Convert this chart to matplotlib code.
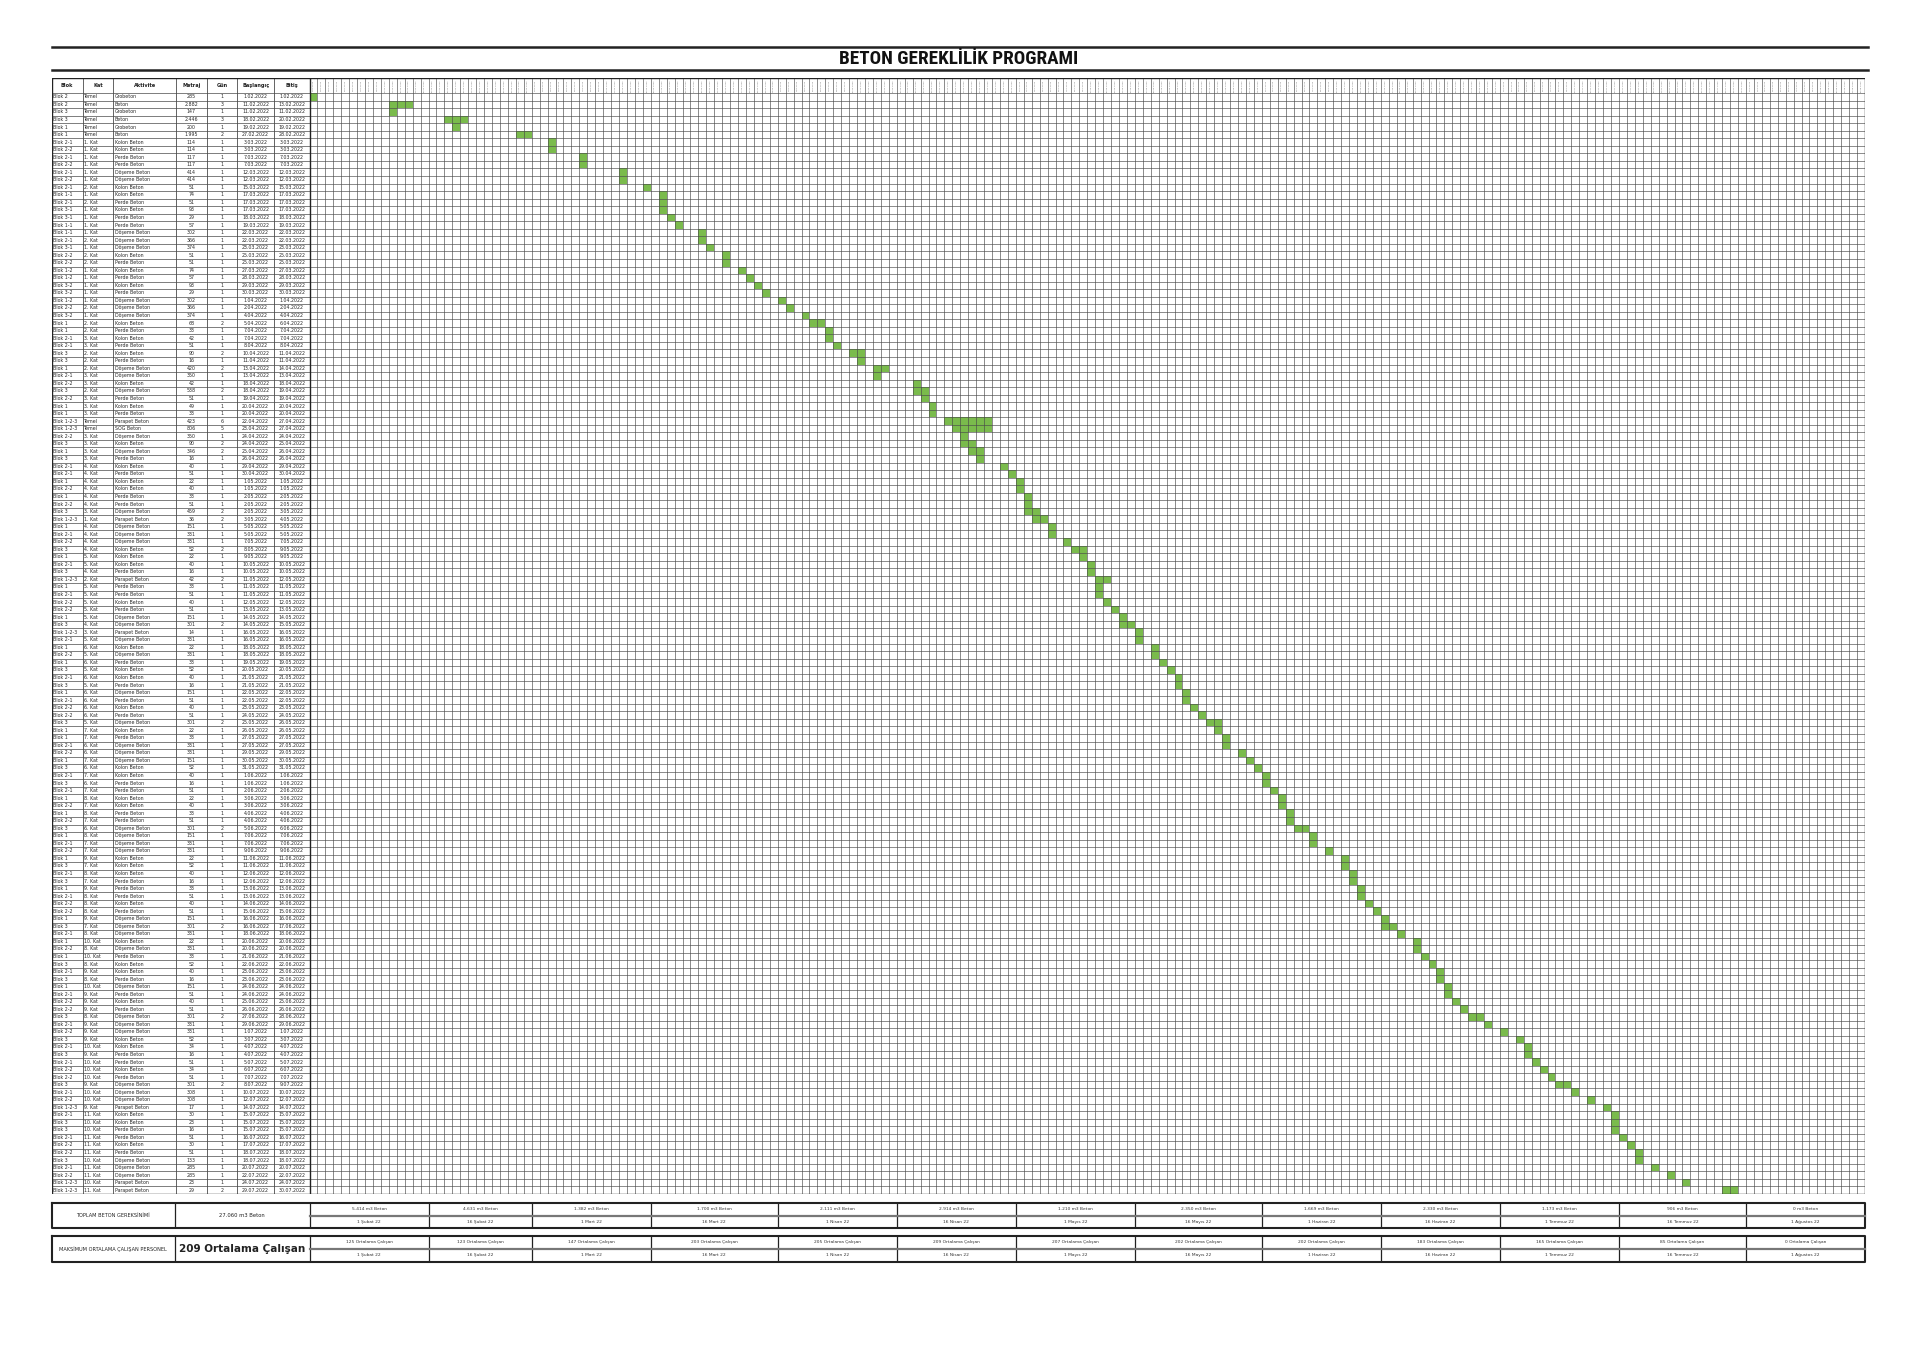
import datetime as dt
import matplotlib.pyplot as plt

plt.rcParams['font.family'] = ['Liberation Sans Narrow', 'DejaVu Sans']

blok = [
    "Blok 2", "Blok 2", "Blok 3", "Blok 3", "Blok 1", "Blok 1", "Blok 2-1", "Blok 2-2", "Blok 2-1", "Blok 2-2",
    "Blok 2-1", "Blok 2-2", "Blok 2-1", "Blok 1-1", "Blok 2-1", "Blok 3-1", "Blok 3-1", "Blok 1-1", "Blok 1-1", "Blok 2-1",
    "Blok 3-1", "Blok 2-2", "Blok 2-2", "Blok 1-2", "Blok 1-2", "Blok 3-2", "Blok 3-2", "Blok 1-2", "Blok 2-2", "Blok 3-2",
    "Blok 1", "Blok 1", "Blok 2-1", "Blok 2-1", "Blok 3", "Blok 3", "Blok 1", "Blok 2-1", "Blok 2-2", "Blok 3",
    "Blok 2-2", "Blok 1", "Blok 1", "Blok 1-2-3", "Blok 1-2-3", "Blok 2-2", "Blok 3", "Blok 1", "Blok 3", "Blok 2-1",
    "Blok 2-1", "Blok 1", "Blok 2-2", "Blok 1", "Blok 2-2", "Blok 3", "Blok 1-2-3", "Blok 1", "Blok 2-1", "Blok 2-2",
    "Blok 3", "Blok 1", "Blok 2-1", "Blok 3", "Blok 1-2-3", "Blok 1", "Blok 2-1", "Blok 2-2", "Blok 2-2", "Blok 1",
    "Blok 3", "Blok 1-2-3", "Blok 2-1", "Blok 1", "Blok 2-2", "Blok 1", "Blok 3", "Blok 2-1", "Blok 3", "Blok 1",
    "Blok 2-1", "Blok 2-2", "Blok 2-2", "Blok 3", "Blok 1", "Blok 1", "Blok 2-1", "Blok 2-2", "Blok 1", "Blok 3",
    "Blok 2-1", "Blok 3", "Blok 2-1", "Blok 1", "Blok 2-2", "Blok 1", "Blok 2-2", "Blok 3", "Blok 1", "Blok 2-1",
    "Blok 2-2", "Blok 1", "Blok 3", "Blok 2-1", "Blok 3", "Blok 1", "Blok 2-1", "Blok 2-2", "Blok 2-2", "Blok 1",
    "Blok 3", "Blok 2-1", "Blok 1", "Blok 2-2", "Blok 1", "Blok 3", "Blok 2-1", "Blok 3", "Blok 1", "Blok 2-1",
    "Blok 2-2", "Blok 2-2", "Blok 3", "Blok 2-1", "Blok 2-2", "Blok 3", "Blok 2-1", "Blok 3", "Blok 2-1", "Blok 2-2",
    "Blok 2-2", "Blok 3", "Blok 2-1", "Blok 2-2", "Blok 1-2-3", "Blok 2-1", "Blok 3", "Blok 3", "Blok 2-1", "Blok 2-2",
    "Blok 2-2", "Blok 3", "Blok 2-1", "Blok 2-2", "Blok 1-2-3", "Blok 1-2-3",
]

kat = [
    "Temel", "Temel", "Temel", "Temel", "Temel", "Temel", "1. Kat", "1. Kat", "1. Kat", "1. Kat",
    "1. Kat", "1. Kat", "2. Kat", "1. Kat", "2. Kat", "1. Kat", "1. Kat", "1. Kat", "1. Kat", "2. Kat",
    "1. Kat", "2. Kat", "2. Kat", "1. Kat", "1. Kat", "1. Kat", "1. Kat", "1. Kat", "2. Kat", "1. Kat",
    "2. Kat", "2. Kat", "3. Kat", "3. Kat", "2. Kat", "2. Kat", "2. Kat", "3. Kat", "3. Kat", "2. Kat",
    "3. Kat", "3. Kat", "3. Kat", "Temel", "Temel", "3. Kat", "3. Kat", "3. Kat", "3. Kat", "4. Kat",
    "4. Kat", "4. Kat", "4. Kat", "4. Kat", "4. Kat", "3. Kat", "1. Kat", "4. Kat", "4. Kat", "4. Kat",
    "4. Kat", "5. Kat", "5. Kat", "4. Kat", "2. Kat", "5. Kat", "5. Kat", "5. Kat", "5. Kat", "5. Kat",
    "4. Kat", "3. Kat", "5. Kat", "6. Kat", "5. Kat", "6. Kat", "5. Kat", "6. Kat", "5. Kat", "6. Kat",
    "6. Kat", "6. Kat", "6. Kat", "5. Kat", "7. Kat", "7. Kat", "6. Kat", "6. Kat", "7. Kat", "6. Kat",
    "7. Kat", "6. Kat", "7. Kat", "8. Kat", "7. Kat", "8. Kat", "7. Kat", "6. Kat", "8. Kat", "7. Kat",
    "7. Kat", "9. Kat", "7. Kat", "8. Kat", "7. Kat", "9. Kat", "8. Kat", "8. Kat", "8. Kat", "9. Kat",
    "7. Kat", "8. Kat", "10. Kat", "8. Kat", "10. Kat", "8. Kat", "9. Kat", "8. Kat", "10. Kat", "9. Kat",
    "9. Kat", "9. Kat", "8. Kat", "9. Kat", "9. Kat", "9. Kat", "10. Kat", "9. Kat", "10. Kat", "10. Kat",
    "10. Kat", "9. Kat", "10. Kat", "10. Kat", "9. Kat", "11. Kat", "10. Kat", "10. Kat", "11. Kat", "11. Kat",
    "11. Kat", "10. Kat", "11. Kat", "11. Kat", "10. Kat", "11. Kat",
]

aktivite = [
    "Grobeton", "Beton", "Grobeton", "Beton", "Grobeton", "Beton", "Kolon Beton", "Kolon Beton", "Perde Beton", "Perde Beton",
    "Döşeme Beton", "Döşeme Beton", "Kolon Beton", "Kolon Beton", "Perde Beton", "Kolon Beton", "Perde Beton", "Perde Beton", "Döşeme Beton", "Döşeme Beton",
    "Döşeme Beton", "Kolon Beton", "Perde Beton", "Kolon Beton", "Perde Beton", "Kolon Beton", "Perde Beton", "Döşeme Beton", "Döşeme Beton", "Döşeme Beton",
    "Kolon Beton", "Perde Beton", "Kolon Beton", "Perde Beton", "Kolon Beton", "Perde Beton", "Döşeme Beton", "Döşeme Beton", "Kolon Beton", "Döşeme Beton",
    "Perde Beton", "Kolon Beton", "Perde Beton", "Parapet Beton", "SOG Beton", "Döşeme Beton", "Kolon Beton", "Döşeme Beton", "Perde Beton", "Kolon Beton",
    "Perde Beton", "Kolon Beton", "Kolon Beton", "Perde Beton", "Perde Beton", "Döşeme Beton", "Parapet Beton", "Döşeme Beton", "Döşeme Beton", "Döşeme Beton",
    "Kolon Beton", "Kolon Beton", "Kolon Beton", "Perde Beton", "Parapet Beton", "Perde Beton", "Perde Beton", "Kolon Beton", "Perde Beton", "Döşeme Beton",
    "Döşeme Beton", "Parapet Beton", "Döşeme Beton", "Kolon Beton", "Döşeme Beton", "Perde Beton", "Kolon Beton", "Kolon Beton", "Perde Beton", "Döşeme Beton",
    "Perde Beton", "Kolon Beton", "Perde Beton", "Döşeme Beton", "Kolon Beton", "Perde Beton", "Döşeme Beton", "Döşeme Beton", "Döşeme Beton", "Kolon Beton",
    "Kolon Beton", "Perde Beton", "Perde Beton", "Kolon Beton", "Kolon Beton", "Perde Beton", "Perde Beton", "Döşeme Beton", "Döşeme Beton", "Döşeme Beton",
    "Döşeme Beton", "Kolon Beton", "Kolon Beton", "Kolon Beton", "Perde Beton", "Perde Beton", "Perde Beton", "Kolon Beton", "Perde Beton", "Döşeme Beton",
    "Döşeme Beton", "Döşeme Beton", "Kolon Beton", "Döşeme Beton", "Perde Beton", "Kolon Beton", "Kolon Beton", "Perde Beton", "Döşeme Beton", "Perde Beton",
    "Kolon Beton", "Perde Beton", "Döşeme Beton", "Döşeme Beton", "Döşeme Beton", "Kolon Beton", "Kolon Beton", "Perde Beton", "Perde Beton", "Kolon Beton",
    "Perde Beton", "Döşeme Beton", "Döşeme Beton", "Döşeme Beton", "Parapet Beton", "Kolon Beton", "Kolon Beton", "Perde Beton", "Perde Beton", "Kolon Beton",
    "Perde Beton", "Döşeme Beton", "Döşeme Beton", "Döşeme Beton", "Parapet Beton", "Parapet Beton",
]

metraj = [
    "285", "2.882", "147", "2.446", "200", "1.995", "114", "114", "117", "117",
    "414", "414", "51", "74", "51", "93", "29", "57", "302", "366",
    "374", "51", "51", "74", "57", "93", "29", "302", "366", "374",
    "68", "33", "42", "51", "90", "16", "420", "350", "42", "538",
    "51", "49", "33", "423", "806", "350", "90", "346", "16", "40",
    "51", "22", "40", "33", "51", "459", "36", "151", "331", "331",
    "52", "22", "40", "16", "42", "33", "51", "40", "51", "151",
    "301", "14", "331", "22", "331", "33", "52", "40", "16", "151",
    "51", "40", "51", "301", "22", "33", "331", "331", "151", "52",
    "40", "16", "51", "22", "40", "33", "51", "301", "151", "331",
    "331", "22", "52", "40", "16", "33", "51", "40", "51", "151",
    "301", "331", "22", "331", "33", "52", "40", "16", "151", "51",
    "40", "51", "301", "331", "331", "52", "34", "16", "51", "34",
    "51", "301", "308", "308", "17", "30", "23", "16", "51", "30",
    "51", "133", "285", "285", "23", "29",
]

gun = [
    1, 3, 1, 3, 1, 2, 1, 1, 1, 1,
    1, 1, 1, 1, 1, 1, 1, 1, 1, 1,
    1, 1, 1, 1, 1, 1, 1, 1, 1, 1,
    2, 1, 1, 1, 2, 1, 2, 1, 1, 2,
    1, 1, 1, 6, 5, 1, 2, 2, 1, 1,
    1, 1, 1, 1, 1, 2, 2, 1, 1, 1,
    2, 1, 1, 1, 2, 1, 1, 1, 1, 1,
    2, 1, 1, 1, 1, 1, 1, 1, 1, 1,
    1, 1, 1, 2, 1, 1, 1, 1, 1, 1,
    1, 1, 1, 1, 1, 1, 1, 2, 1, 1,
    1, 1, 1, 1, 1, 1, 1, 1, 1, 1,
    2, 1, 1, 1, 1, 1, 1, 1, 1, 1,
    1, 1, 2, 1, 1, 1, 1, 1, 1, 1,
    1, 2, 1, 1, 1, 1, 1, 1, 1, 1,
    1, 1, 1, 1, 1, 2,
]

baslangic = [
    "1.02.2022", "11.02.2022", "11.02.2022", "18.02.2022", "19.02.2022", "27.02.2022", "3.03.2022", "3.03.2022", "7.03.2022", "7.03.2022",
    "12.03.2022", "12.03.2022", "15.03.2022", "17.03.2022", "17.03.2022", "17.03.2022", "18.03.2022", "19.03.2022", "22.03.2022", "22.03.2022",
    "23.03.2022", "25.03.2022", "25.03.2022", "27.03.2022", "28.03.2022", "29.03.2022", "30.03.2022", "1.04.2022", "2.04.2022", "4.04.2022",
    "5.04.2022", "7.04.2022", "7.04.2022", "8.04.2022", "10.04.2022", "11.04.2022", "13.04.2022", "13.04.2022", "18.04.2022", "18.04.2022",
    "19.04.2022", "20.04.2022", "20.04.2022", "22.04.2022", "23.04.2022", "24.04.2022", "24.04.2022", "25.04.2022", "26.04.2022", "29.04.2022",
    "30.04.2022", "1.05.2022", "1.05.2022", "2.05.2022", "2.05.2022", "2.05.2022", "3.05.2022", "5.05.2022", "5.05.2022", "7.05.2022",
    "8.05.2022", "9.05.2022", "10.05.2022", "10.05.2022", "11.05.2022", "11.05.2022", "11.05.2022", "12.05.2022", "13.05.2022", "14.05.2022",
    "14.05.2022", "16.05.2022", "16.05.2022", "18.05.2022", "18.05.2022", "19.05.2022", "20.05.2022", "21.05.2022", "21.05.2022", "22.05.2022",
    "22.05.2022", "23.05.2022", "24.05.2022", "25.05.2022", "26.05.2022", "27.05.2022", "27.05.2022", "29.05.2022", "30.05.2022", "31.05.2022",
    "1.06.2022", "1.06.2022", "2.06.2022", "3.06.2022", "3.06.2022", "4.06.2022", "4.06.2022", "5.06.2022", "7.06.2022", "7.06.2022",
    "9.06.2022", "11.06.2022", "11.06.2022", "12.06.2022", "12.06.2022", "13.06.2022", "13.06.2022", "14.06.2022", "15.06.2022", "16.06.2022",
    "16.06.2022", "18.06.2022", "20.06.2022", "20.06.2022", "21.06.2022", "22.06.2022", "23.06.2022", "23.06.2022", "24.06.2022", "24.06.2022",
    "25.06.2022", "26.06.2022", "27.06.2022", "29.06.2022", "1.07.2022", "3.07.2022", "4.07.2022", "4.07.2022", "5.07.2022", "6.07.2022",
    "7.07.2022", "8.07.2022", "10.07.2022", "12.07.2022", "14.07.2022", "15.07.2022", "15.07.2022", "15.07.2022", "16.07.2022", "17.07.2022",
    "18.07.2022", "18.07.2022", "20.07.2022", "22.07.2022", "24.07.2022", "29.07.2022",
]

bitis = [
    "1.02.2022", "13.02.2022", "11.02.2022", "20.02.2022", "19.02.2022", "28.02.2022", "3.03.2022", "3.03.2022", "7.03.2022", "7.03.2022",
    "12.03.2022", "12.03.2022", "15.03.2022", "17.03.2022", "17.03.2022", "17.03.2022", "18.03.2022", "19.03.2022", "22.03.2022", "22.03.2022",
    "23.03.2022", "25.03.2022", "25.03.2022", "27.03.2022", "28.03.2022", "29.03.2022", "30.03.2022", "1.04.2022", "2.04.2022", "4.04.2022",
    "6.04.2022", "7.04.2022", "7.04.2022", "8.04.2022", "11.04.2022", "11.04.2022", "14.04.2022", "13.04.2022", "18.04.2022", "19.04.2022",
    "19.04.2022", "20.04.2022", "20.04.2022", "27.04.2022", "27.04.2022", "24.04.2022", "25.04.2022", "26.04.2022", "26.04.2022", "29.04.2022",
    "30.04.2022", "1.05.2022", "1.05.2022", "2.05.2022", "2.05.2022", "3.05.2022", "4.05.2022", "5.05.2022", "5.05.2022", "7.05.2022",
    "9.05.2022", "9.05.2022", "10.05.2022", "10.05.2022", "12.05.2022", "11.05.2022", "11.05.2022", "12.05.2022", "13.05.2022", "14.05.2022",
    "15.05.2022", "16.05.2022", "16.05.2022", "18.05.2022", "18.05.2022", "19.05.2022", "20.05.2022", "21.05.2022", "21.05.2022", "22.05.2022",
    "22.05.2022", "23.05.2022", "24.05.2022", "26.05.2022", "26.05.2022", "27.05.2022", "27.05.2022", "29.05.2022", "30.05.2022", "31.05.2022",
    "1.06.2022", "1.06.2022", "2.06.2022", "3.06.2022", "3.06.2022", "4.06.2022", "4.06.2022", "6.06.2022", "7.06.2022", "7.06.2022",
    "9.06.2022", "11.06.2022", "11.06.2022", "12.06.2022", "12.06.2022", "13.06.2022", "13.06.2022", "14.06.2022", "15.06.2022", "16.06.2022",
    "17.06.2022", "18.06.2022", "20.06.2022", "20.06.2022", "21.06.2022", "22.06.2022", "23.06.2022", "23.06.2022", "24.06.2022", "24.06.2022",
    "25.06.2022", "26.06.2022", "28.06.2022", "29.06.2022", "1.07.2022", "3.07.2022", "4.07.2022", "4.07.2022", "5.07.2022", "6.07.2022",
    "7.07.2022", "9.07.2022", "10.07.2022", "12.07.2022", "14.07.2022", "15.07.2022", "15.07.2022", "15.07.2022", "16.07.2022", "17.07.2022",
    "18.07.2022", "18.07.2022", "20.07.2022", "22.07.2022", "24.07.2022", "30.07.2022",
]

headers = ["Blok", "Kat", "Aktivite", "Metraj", "Gün", "Başlangıç", "Bitiş"]

# summary rows (half-month periods)
donem = ["1 Şubat 22", "16 Şubat 22", "1 Mart 22", "16 Mart 22", "1 Nisan 22", "16 Nisan 22", "1 Mayıs 22",
         "16 Mayıs 22", "1 Haziran 22", "16 Haziran 22", "1 Temmuz 22", "16 Temmuz 22", "1 Ağustos 22"]
donem_beton = ["5.414 m3 Beton", "4.631 m3 Beton", "1.382 m3 Beton", "1.700 m3 Beton", "2.111 m3 Beton",
               "2.914 m3 Beton", "1.210 m3 Beton", "2.350 m3 Beton", "1.669 m3 Beton", "2.330 m3 Beton",
               "1.173 m3 Beton", "906 m3 Beton", "0 m3 Beton"]
donem_calisan = ["125 Ortalama Çalışan", "123 Ortalama Çalışan", "147 Ortalama Çalışan", "203 Ortalama Çalışan",
                 "205 Ortalama Çalışan", "209 Ortalama Çalışan", "207 Ortalama Çalışan", "202 Ortalama Çalışan",
                 "202 Ortalama Çalışan", "183 Ortalama Çalışan", "165 Ortalama Çalışan", "85 Ortalama Çalışan",
                 "0 Ortalama Çalışan"]
toplam_beton = "27.060 m3 Beton"
max_calisan = "209 Ortalama Çalışan"

start_date = dt.date(2022, 2, 1)
end_date = dt.date(2022, 8, 15)


def parse(s):
    d, m, y = s.split(".")
    return dt.date(int(y), int(m), int(d))


n_rows = len(blok)
n_days = (end_date - start_date).days + 1
green = "#7ABB4C"
line_c = "#4a4a4a"

fig = plt.figure(figsize=(19.2, 13.58), dpi=100)
W, H = 1920, 1358
L, GX, R = 51.5, 309.5, 1865
TOP, BOT = 78, 1194


def rect(x0, y0, x1, y1):
    return [x0 / W, 1 - y1 / H, (x1 - x0) / W, (y1 - y0) / H]


base = fig.add_axes([0, 0, 1, 1])
base.set_xlim(0, W)
base.set_ylim(H, 0)
base.axis("off")

# title
base.plot([L, 1868], [46.5, 46.5], color="#222222", lw=1.8)
base.plot([L, 1868], [70, 70], color="#222222", lw=1.8)
base.text(959, 58.5, "BETON GEREKLİLİK PROGRAMI", ha="center", va="center",
          fontsize=13.8, fontweight="bold", color="#111111",
          family=["Liberation Sans Narrow", "Roboto Condensed", "Roboto", "DejaVu Sans"])

# ---- left table ----
tab = fig.add_axes(rect(L, TOP, GX, BOT))
tab.set_xlim(L, GX)
tab.set_ylim(n_rows, -2)
tab.axis("off")
col_edges = [L, 82.7, 113.3, 176, 206.7, 237.3, 274, GX]
cols = [blok, kat, aktivite, metraj, [str(g) for g in gun], baslangic, bitis]
for c, name in enumerate(headers):
    tab.text((col_edges[c] + col_edges[c + 1]) / 2, -1, name, ha="center", va="center",
             fontsize=3.6, fontweight="bold", color="#222222")
for c, vals in enumerate(cols):
    for i, v in enumerate(vals):
        if c < 3:
            tab.text(col_edges[c] + 1.5, i + 0.5, v, ha="left", va="center", fontsize=3.4, color="#2a2a2a")
        else:
            tab.text((col_edges[c] + col_edges[c + 1]) / 2, i + 0.5, v, ha="center", va="center",
                     fontsize=3.4, color="#2a2a2a")
tab.hlines(range(0, n_rows + 1), L, GX, color=line_c, lw=0.5)
tab.vlines(col_edges, -2, n_rows, color=line_c, lw=0.6)
tab.plot([L, GX, GX, L, L], [-2, -2, n_rows, n_rows, -2], color="#222222", lw=1.0)

# ---- gantt ----
gt = fig.add_axes(rect(GX, TOP, R, BOT))
gt.set_xlim(0, n_days)
gt.set_ylim(n_rows, -2)
gt.axis("off")
for i in range(n_rows):
    s = (parse(baslangic[i]) - start_date).days
    e = (parse(bitis[i]) - start_date).days
    gt.barh(i + 0.5, e - s + 1, left=s, height=1, color=green, edgecolor="none", zorder=1)
gt.vlines(range(n_days + 1), -2, n_rows, color=line_c, lw=0.45, zorder=2)
gt.hlines(range(0, n_rows + 1), 0, n_days, color=line_c, lw=0.45, zorder=2)
for d in range(n_days):
    day = start_date + dt.timedelta(days=d)
    gt.text(d + 0.5, -1, f"{day.day}.{day.month:02d}.2022", rotation=90, ha="center", va="center",
            fontsize=1.6, color="#777777")
gt.plot([0, n_days, n_days, 0, 0], [-2, -2, n_rows, n_rows, -2], color="#222222", lw=1.0, zorder=3)

# ---- summary blocks ----
dw = (R - GX) / n_days
seg_starts = []
for d in [dt.date(2022, m, dd) for m in (2, 3, 4, 5, 6, 7, 8) for dd in (1, 16)]:
    seg_starts.append(GX + (d - start_date).days * dw)
seg_edges = seg_starts[:13] + [R]

blocks = [
    (1203, 1215.5, 1228, "TOPLAM BETON GEREKSİNİMİ", toplam_beton, 3.8, donem_beton),
    (1236, 1248.5, 1262, "MAKSİMUM ORTALAMA ÇALIŞAN PERSONEL", max_calisan, 7.5, donem_calisan),
]
for y0, ym, y1, label, val, vfs, top_vals in blocks:
    base.plot([L, R, R, L, L], [y0, y0, y1, y1, y0], color="#222222", lw=1.5)
    base.vlines([175, GX] + seg_edges[1:-1], y0, y1, color="#222222", lw=0.9)
    base.plot([GX, R], [ym, ym], color="#777777", lw=1.6)
    base.text((L + 175) / 2, (y0 + y1) / 2, label, ha="center", va="center", fontsize=3.6, color="#222222")
    base.text((175 + GX) / 2, (y0 + y1) / 2, val, ha="center", va="center", fontsize=vfs,
              fontweight="bold" if vfs > 5 else "normal", color="#222222")
    for k in range(13):
        cx = (seg_edges[k] + seg_edges[k + 1]) / 2
        base.text(cx, (y0 + ym) / 2, top_vals[k], ha="center", va="center", fontsize=3.2, color="#333333")
        base.text(cx, (ym + y1) / 2, donem[k], ha="center", va="center", fontsize=3.2, color="#333333")

fig.savefig("out.png", dpi=100, facecolor="white")
